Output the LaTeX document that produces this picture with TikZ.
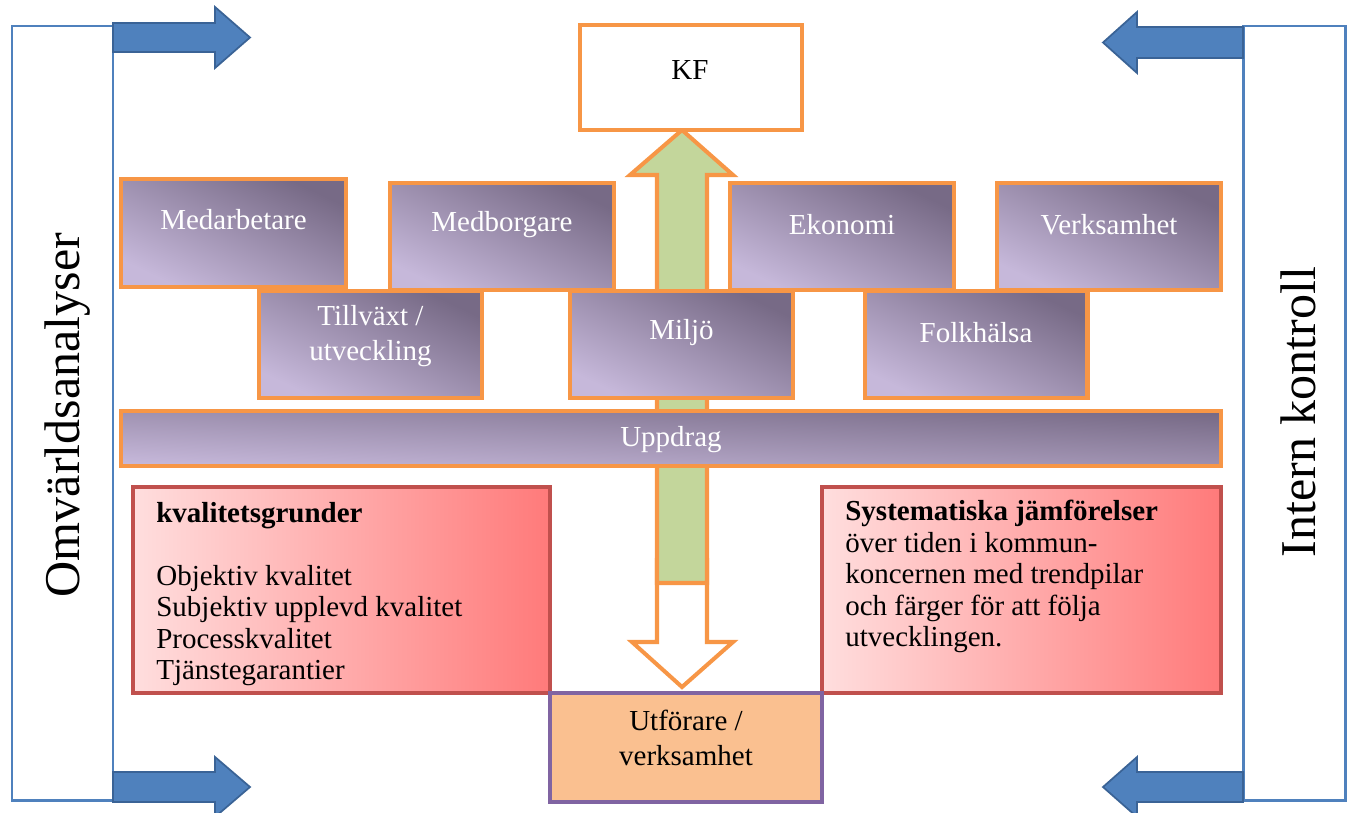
\documentclass[tikz,border=0pt]{standalone}
\usepackage{fontspec}
\setmainfont{Liberation Serif}
\definecolor{orangeC}{HTML}{F79646}
\definecolor{pdark}{HTML}{776A86}
\definecolor{plight}{HTML}{C6B8DA}
\definecolor{blueL}{HTML}{4F81BD}
\definecolor{blueD}{HTML}{3A6396}
\definecolor{greenF}{HTML}{C3D69B}
\definecolor{redB}{HTML}{C0504D}
\definecolor{pinkL}{HTML}{FFDEDE}
\definecolor{redR}{HTML}{FF7A7A}
\definecolor{peach}{HTML}{FAC090}
\definecolor{purpB}{HTML}{8064A2}
\tikzset{
  pbox/.style={draw=orangeC, line width=2.3pt, top color=pdark, bottom color=plight, shading angle=-25.5, inner sep=0pt},
  rbox/.style={draw=redB, line width=1.8pt, left color=pinkL, right color=redR, inner sep=0pt},
  wtxt/.style={text=white, font=\fontsize{16.5}{19.5}\selectfont, align=center},
  btxt/.style={text=black, font=\fontsize{16.5}{19.5}\selectfont, align=center},
  ltxt/.style={text=black, font=\fontsize{16.5}{17.9}\selectfont, align=left, anchor=north west, inner sep=0pt},
  barrow/.style={fill=blueL, draw=blueD, line width=1pt, line join=miter},
  bracket/.style={draw=blueL, line width=1.7pt},
  bigtxt/.style={text=black, font=\fontsize{28.5}{30}\selectfont, rotate=90}
}
\begin{document}
\begin{tikzpicture}[x=0.02cm,y=-0.02cm]
\useasboundingbox (0,0) rectangle (1351,812);
\begin{scope}
\clip (0,0) rectangle (1351,812);
% side brackets
\draw[bracket] (12,26) rectangle (113,800);
\draw[bracket] (1243,26) rectangle (1345,800);
% blue arrows
\draw[barrow] (113,23) -- (215,23) -- (215,7) -- (250,37.5) -- (215,68) -- (215,52) -- (113,52) -- cycle;
\draw[barrow] (113,772) -- (215,772) -- (215,757) -- (250,787) -- (215,817) -- (215,802) -- (113,802) -- cycle;
\draw[barrow] (1243,27) -- (1137,27) -- (1137,12) -- (1103,42.5) -- (1137,73) -- (1137,58) -- (1243,58) -- cycle;
\draw[barrow] (1243,772) -- (1137,772) -- (1137,757) -- (1103,787) -- (1137,817) -- (1137,802) -- (1243,802) -- cycle;
\end{scope}
% rotated labels
\node[bigtxt] (omv) at (68,415) {Omvärldsanalyser};
\node[bigtxt] (intern) at (1298,412) {Intern kontroll};
% central arrows
\draw[draw=orangeC, fill=white, line width=2.3pt, line join=miter] (657,560) -- (657,642) -- (632,642) -- (682,687) -- (733,642) -- (707,642) -- (707,560) -- cycle;
\draw[draw=orangeC, fill=greenF, line width=2.3pt, line join=miter] (657,583) -- (657,175) -- (630,175) -- (682,130) -- (733,175) -- (707,175) -- (707,583) -- cycle;
% KF
\node[draw=orangeC, line width=2.3pt, fill=white, minimum width=4.44cm, minimum height=2.1cm, inner sep=0pt] (kf) at (691,77.5) {};
\node[btxt] (kft) at (690,70) {KF};
% purple boxes
\node[pbox, minimum width=4.5cm, minimum height=2.16cm] (med) at (233.5,233) {};
\node[wtxt] (medt) at (233.5,220) {Medarbetare};
\node[pbox, minimum width=4.48cm, minimum height=2.14cm] (medb) at (502,236.5) {};
\node[wtxt] (medbt) at (502,225) {Medborgare};
\node[pbox, minimum width=4.48cm, minimum height=2.14cm] (eko) at (842,236.5) {};
\node[wtxt] (ekot) at (842,225) {Ekonomi};
\node[pbox, minimum width=4.48cm, minimum height=2.14cm] (verk) at (1109,236.5) {};
\node[wtxt] (verkt) at (1109,225) {Verksamhet};
\node[pbox, minimum width=4.46cm, minimum height=2.14cm] (till) at (370.5,344.5) {};
\node[wtxt] (tillt) at (370.5,336) {Tillväxt /\\utveckling};
\node[pbox, minimum width=4.46cm, minimum height=2.14cm] (milj) at (681.5,344.5) {};
\node[wtxt] (miljt) at (681.5,333) {Miljö};
\node[pbox, minimum width=4.46cm, minimum height=2.14cm] (folk) at (976,344.5) {};
\node[wtxt] (folkt) at (976,333) {Folkhälsa};
\node[pbox, shading angle=-3, minimum width=22cm, minimum height=1.1cm] (upp) at (671,438.5) {};
\node[wtxt] (uppt) at (671,440) {Uppdrag};
% red boxes
\node[rbox, minimum width=8.34cm, minimum height=4.12cm] (kval) at (341.5,590) {};
\node[ltxt] (kvalt) at (156,502) {\textbf{kvalitetsgrunder}\\[17.9pt] Objektiv kvalitet\\ Subjektiv upplevd kvalitet\\ Processkvalitet\\ Tjänstegarantier};
\node[rbox, minimum width=7.98cm, minimum height=4.12cm] (syst) at (1021.5,590) {};
\node[ltxt] (systt) at (845,500) {\textbf{Systematiska jämförelser}\\ över tiden i kommun-\\ koncernen med trendpilar\\ och färger för att följa\\ utvecklingen.};
% executor
\node[draw=purpB, line width=1.8pt, fill=peach, minimum width=5.44cm, minimum height=2.18cm, inner sep=0pt] (utf) at (686,747.5) {};
\node[btxt] (utft) at (686,738) {Utförare /\\verksamhet};
\end{tikzpicture}
\end{document}
